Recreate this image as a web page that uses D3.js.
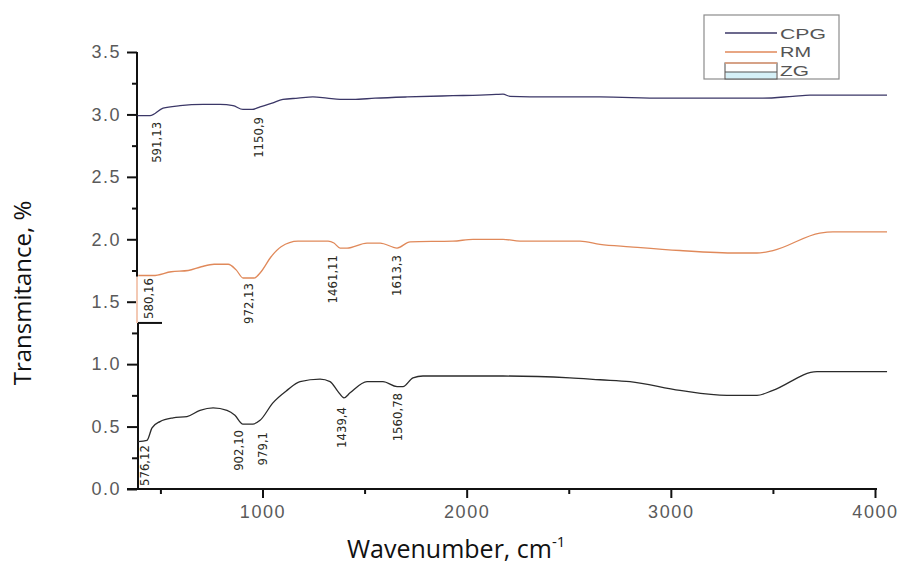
<!DOCTYPE html>
<html>
<head>
<meta charset="utf-8">
<script src="https://cdn.jsdelivr.net/npm/d3@7"></script>
<style>
  body { margin: 0; background: #fff; }
  .tick text { font-family: "Liberation Sans", Arial, sans-serif; fill: #5a5a5a; }
</style>
</head>
<body>
<svg id="chart" width="916" height="568"></svg>
<script>
// spectra: [wavenumber, transmitance]
var cpg = [[388,2.99],[449,2.99],[513,3.05],[596,3.07],[709,3.08],[792,3.08],[856,3.07],[904,3.04],[949,3.04],[988,3.06],
  [1047,3.09],[1100,3.12],[1174,3.13],[1247,3.14],[1316,3.13],[1380,3.12],[1443,3.12],[1551,3.13],[1708,3.14],[1933,3.15],
  [2065,3.155],[2144,3.16],[2178,3.162],[2212,3.145],[2408,3.14],[2653,3.14],[2962,3.13],[3192,3.13],[3451,3.13],[3598,3.145],
  [3682,3.155],[4059,3.155]];
var rm = [[392,1.71],[464,1.71],[553,1.74],[636,1.75],[700,1.78],[763,1.80],[832,1.80],[871,1.755],[905,1.69],[959,1.69],
  [993,1.74],[1042,1.86],[1091,1.94],[1174,1.985],[1321,1.985],[1350,1.97],[1380,1.93],[1414,1.93],[1512,1.97],[1576,1.97],
  [1659,1.93],[1723,1.98],[1933,1.985],[2031,2.0],[2178,2.0],[2261,1.985],[2555,1.985],[2653,1.96],[2800,1.94],[3045,1.91],
  [3324,1.89],[3422,1.89],[3500,1.91],[3730,2.05],[3794,2.06],[4059,2.06]];
var zg = [[390,0.38],[434,0.39],[459,0.49],[498,0.54],[562,0.57],[630,0.58],[694,0.63],[758,0.65],[826,0.63],[865,0.59],
  [904,0.52],[953,0.52],[988,0.55],[1051,0.69],[1120,0.79],[1184,0.86],[1282,0.88],[1331,0.86],[1370,0.78],[1399,0.73],
  [1429,0.77],[1512,0.86],[1590,0.86],[1659,0.82],[1688,0.82],[1737,0.89],[1786,0.905],[2178,0.905],[2506,0.89],[2653,0.875],
  [2800,0.86],[3045,0.79],[3275,0.75],[3422,0.75],[3500,0.79],[3716,0.94],[4059,0.94]];

// peak labels: [text, wavenumber, transmitance at top of label]
var peaks = [["591,13",483,2.94],["1150,9",978,2.98],
  ["580,16",444,1.69],["972,13",929,1.65],["1461,11",1345,1.874],["1613,3",1654,1.874],
  ["576,12",420,0.352],["902,10",880,0.473],["979,1",1002,0.457],["1439,4",1389,0.657],["1560,78",1659,0.769]];

var seriesNames = ["CPG", "RM", "ZG"];
var seriesColors = ["#3b3767", "#e0895a", "#2b2b2b"];
var yMajor = [0, 0.5, 1, 1.5, 2, 2.5, 3, 3.5];
var yMinor = [0.25, 0.75, 1.25, 1.75, 2.25, 2.75, 3.25];
var xMajor = [1000, 2000, 3000, 4000];
var xMinor = [500, 1500, 2500, 3500];

var svg = d3.select("#chart");
var x = d3.scaleLinear().domain([400, 4000]).range([140, 875]);
var y = d3.scaleLinear().domain([0, 3.5]).range([489, 52]);
var axisX = 137;

// x axis
var gx = svg.append("g").attr("transform", "translate(0,489)");
gx.append("g").call(d3.axisBottom(x).tickValues(xMinor).tickSize(5).tickFormat(""))
  .call(function(g){ g.select(".domain").remove(); });
gx.append("g").call(d3.axisBottom(x).tickValues(xMajor).tickSize(9).tickPadding(7).tickFormat(d3.format("d")))
  .call(function(g){ g.select(".domain").remove(); });
gx.selectAll("line").attr("stroke", "#111").attr("stroke-width", 2);
gx.selectAll("text").style("font-size", "18px").style("letter-spacing", "1.6px");
gx.append("line").attr("x1", 127).attr("x2", 877).attr("y1", 0).attr("y2", 0)
  .attr("stroke", "#111").attr("stroke-width", 2);

// y axis
var gy = svg.append("g").attr("transform", "translate(" + axisX + ",0)");
gy.append("g").call(d3.axisLeft(y).tickValues(yMinor).tickSize(5).tickFormat(""))
  .call(function(g){ g.select(".domain").remove(); });
gy.append("g").call(d3.axisLeft(y).tickValues(yMajor).tickSize(10).tickPadding(6).tickFormat(d3.format(".1f")))
  .call(function(g){ g.select(".domain").remove(); });
gy.selectAll("line").attr("stroke", "#111").attr("stroke-width", 2);
gy.selectAll("text").style("font-size", "18px").style("letter-spacing", "1.5px");
gy.append("line").attr("x1", 0).attr("x2", 0).attr("y1", y(3.5)).attr("y2", y(1.7))
  .attr("stroke", "#111").attr("stroke-width", 2);
gy.append("line").attr("x1", 0).attr("x2", 0).attr("y1", y(1.7)).attr("y2", y(1.33))
  .attr("stroke", "#f3c9b4").attr("stroke-width", 2);
gy.append("line").attr("x1", 1).attr("x2", 1).attr("y1", y(1.33)).attr("y2", y(0))
  .attr("stroke", "#111").attr("stroke-width", 2);
gy.append("line").attr("x1", 1).attr("x2", 25).attr("y1", y(1.33)).attr("y2", y(1.33))
  .attr("stroke", "#111").attr("stroke-width", 2);

// spectra
var line = d3.line()
  .x(function(d){ return x(d[0]); })
  .y(function(d){ return y(d[1]); })
  .curve(d3.curveMonotoneX);
[cpg, rm, zg].forEach(function(data, i){
  svg.append("path").datum(data).attr("d", line)
    .attr("fill", "none").attr("stroke", seriesColors[i]).attr("stroke-width", 1.3);
});

// peak labels
svg.append("g").selectAll("text").data(peaks).enter().append("text")
  .attr("transform", function(d){ return "translate(" + x(d[1]) + "," + y(d[2]) + ") rotate(-90)"; })
  .attr("text-anchor", "end")
  .attr("dominant-baseline", "central")
  .style("font-family", "'DejaVu Sans Condensed', 'DejaVu Sans', sans-serif")
  .style("font-size", "13px")
  .style("fill", "#2a2a22")
  .text(function(d){ return d[0]; });

// axis titles
svg.append("text")
  .attr("transform", "translate(31,293) rotate(-90)")
  .attr("text-anchor", "middle")
  .style("font-family", "'Open Sans', sans-serif").style("font-size", "24px").style("fill", "#111")
  .text("Transmitance, %");
var xt = svg.append("text")
  .attr("x", 347).attr("y", 558)
  .style("font-family", "'Open Sans', sans-serif").style("font-size", "25px").style("fill", "#111");
xt.append("tspan").text("Wavenumber, cm");
xt.append("tspan").attr("dy", -11).style("font-size", "15px").text("-1");

// legend
var lg = svg.append("g");
lg.append("rect").attr("x", 704).attr("y", 15).attr("width", 135).attr("height", 64)
  .attr("fill", "#fff").attr("stroke", "#8c8c8c").attr("stroke-width", 1.2);
var rowY = [33, 52];
rowY.forEach(function(ry, i){
  lg.append("line").attr("x1", 725).attr("x2", 777).attr("y1", ry).attr("y2", ry)
    .attr("stroke", seriesColors[i]).attr("stroke-width", 1.5);
});
lg.append("rect").attr("x", 726).attr("y", 72).attr("width", 50).attr("height", 7).attr("fill", "#d5f0f7");
lg.append("rect").attr("x", 725).attr("y", 63).attr("width", 52).attr("height", 16)
  .attr("fill", "none").attr("stroke", "#6a6a6a").attr("stroke-width", 1.2);
lg.append("line").attr("x1", 725).attr("x2", 777).attr("y1", 63).attr("y2", 63)
  .attr("stroke", "#e7a27e").attr("stroke-width", 1.5);
lg.append("line").attr("x1", 725).attr("x2", 777).attr("y1", 72).attr("y2", 72)
  .attr("stroke", "#555").attr("stroke-width", 1.2);
var textY = [39, 57, 76];
var textW = [46, 31, 29];
lg.selectAll("text.lab").data(seriesNames).enter().append("text")
  .attr("class", "lab")
  .attr("x", 780).attr("y", function(d, i){ return textY[i]; })
  .attr("textLength", function(d, i){ return textW[i]; })
  .attr("lengthAdjust", "spacingAndGlyphs")
  .style("font-family", "'Liberation Sans', Arial, sans-serif").style("font-size", "15px").style("fill", "#555")
  .text(function(d){ return d; });
</script>
</body>
</html>
